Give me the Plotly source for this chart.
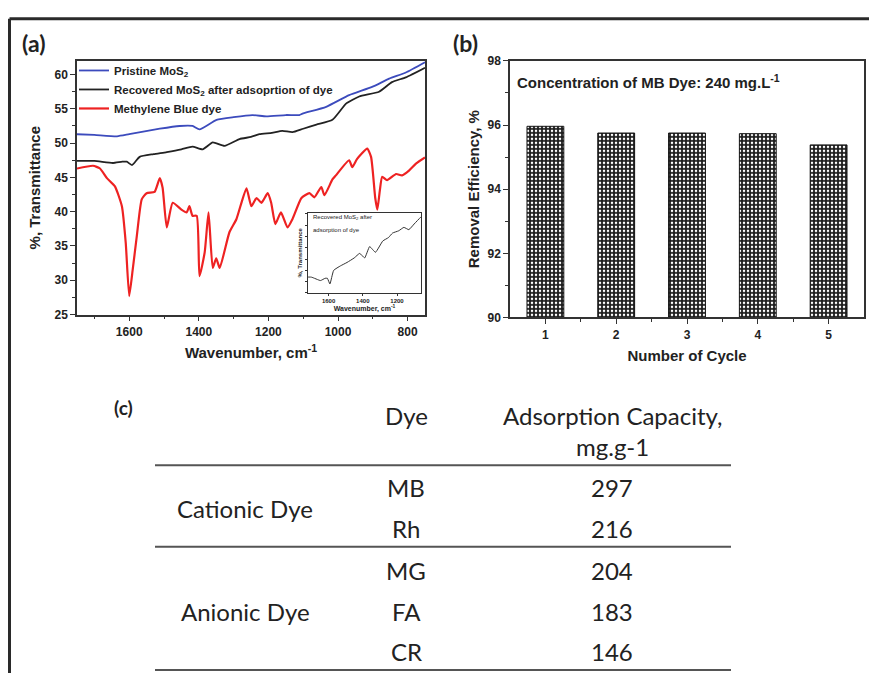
import plotly.graph_objects as go

# ---------------- data ----------------
# Panel (a): FTIR spectra
wn_pristine = [1750, 1700, 1635, 1600, 1512, 1455, 1418, 1398, 1349, 1300, 1246, 1206,
               1150, 1111, 1102, 1034, 968, 902, 853, 805, 750]
t_pristine = [51.3, 51.2, 51.0, 51.3, 52.1, 52.5, 52.5, 52.0, 53.4, 53.8, 54.1, 53.9,
              54.1, 54.1, 54.3, 55.3, 57.0, 58.2, 59.4, 60.3, 61.8]

wn_recovered = [1750, 1700, 1647, 1620, 1607, 1592, 1570, 1530, 1492, 1450, 1418, 1389,
                1360, 1326, 1283, 1250, 1226, 1190, 1160, 1131, 1100, 1062, 1016, 976,
                939, 882, 845, 805, 750]
t_recovered = [47.4, 47.4, 47.1, 47.3, 47.3, 46.8, 48.0, 48.4, 48.7, 49.1, 49.5, 49.1,
               50.1, 49.6, 50.6, 50.9, 51.3, 51.5, 51.8, 51.6, 52.1, 52.7, 53.4, 55.8,
               56.8, 57.5, 58.9, 59.6, 61.0]

wn_mb = [1750, 1704, 1684, 1664, 1641, 1621, 1610, 1600, 1590, 1578, 1564, 1550, 1527,
         1512, 1504, 1492, 1475, 1450, 1435, 1427, 1418, 1406, 1398, 1383, 1372, 1360,
         1350, 1340, 1312, 1292, 1263, 1249, 1234, 1220, 1202, 1192, 1180, 1164, 1145,
         1131, 1105, 1082, 1068, 1048, 1039, 1016, 1006, 968, 959, 945, 916, 905, 893,
         887, 880, 873, 859, 833, 816, 796, 776, 750]
t_mb = [46.3, 46.7, 46.3, 44.9, 43.7, 40.8, 35.5, 27.7, 31.5, 36.5, 41.8, 42.7, 42.9,
        44.9, 43.5, 37.7, 41.3, 40.3, 39.9, 40.8, 39.4, 39.4, 30.6, 34.1, 39.9, 31.8,
        33.2, 31.8, 37.0, 38.9, 43.4, 40.8, 42.0, 41.3, 42.7, 41.3, 38.2, 39.9, 37.7,
        38.9, 42.0, 42.7, 42.1, 43.6, 42.4, 44.7, 45.3, 47.5, 46.5, 47.7, 49.2, 48.0,
        42.0, 40.3, 43.0, 45.1, 44.6, 45.5, 45.3, 46.0, 47.0, 47.9]

series_names = ["Pristine MoS<sub>2</sub>",
                "Recovered MoS<sub>2</sub> after adsoprtion of dye",
                "Methylene Blue dye"]

# Panel (b): removal efficiency per cycle
cycles = [1, 2, 3, 4, 5]
removal_eff = [95.96, 95.75, 95.75, 95.73, 95.38]

# Panel (c): table
dye_classes = ["Cationic Dye", "Anionic Dye"]
class_sizes = [2, 3]
dyes = ["MB", "Rh", "MG", "FA", "CR"]
capacity = [297, 216, 204, 183, 146]

# ---------------- layout helpers ----------------
W, H = 869, 680
def px(x):
    return x / W
def py(y):
    return 1 - y / H

AX = "#333333"
TXT = "#222222"
ARIAL = "Liberation Sans, Arial, sans-serif"
CAL = "Lato, Carlito, sans-serif"

fig = go.Figure()

colors = ["#3c4bbd", "#222222", "#ee2222"]
widths = [1.8, 1.8, 2.2]
for i, (xs, ys) in enumerate([(wn_pristine, t_pristine), (wn_recovered, t_recovered), (wn_mb, t_mb)]):
    fig.add_trace(go.Scatter(x=xs, y=ys, mode="lines", name=series_names[i],
                             line=dict(color=colors[i], width=widths[i], shape="spline",
                                       smoothing=0.5),
                             xaxis="x", yaxis="y"))

# inset
fig.add_trace(go.Scatter(x=wn_recovered, y=t_recovered, mode="lines", showlegend=False,
                         line=dict(color="#333333", width=1, shape="spline", smoothing=0.4),
                         xaxis="x3", yaxis="y3"))

# bars
fig.add_trace(go.Bar(x=cycles, y=removal_eff, width=0.52, showlegend=False,
                     xaxis="x2", yaxis="y2",
                     marker=dict(color="#1e1e1e", line=dict(color="#111111", width=1),
                                 pattern=dict(shape=".", fgcolor="white", bgcolor="#1e1e1e",
                                              fillmode="replace", size=4, solidity=0.3))))

tickfont = dict(family=ARIAL, size=12, color=TXT, weight="bold")
titlefont = dict(family=ARIAL, size=15, color=TXT, weight="bold")
common = dict(showline=True, mirror=True, linecolor=AX, linewidth=1.5, ticks="outside",
              ticklen=5, tickwidth=1.2, tickcolor=AX, showgrid=False, zeroline=False,
              tickfont=tickfont)

fig.update_layout(
    width=W, height=H, margin=dict(l=0, r=0, t=0, b=0),
    paper_bgcolor="white", plot_bgcolor="white",
    showlegend=True,
    legend=dict(x=px(74), y=py(50), xanchor="left", yanchor="top", bgcolor="rgba(0,0,0,0)",
                font=dict(family=ARIAL, size=11.5, color=TXT, weight="bold"),
                tracegroupgap=0, itemwidth=30),
    xaxis=dict(domain=[px(77), px(425)], range=[1750, 750], anchor="y",
               tickvals=[1600, 1400, 1200, 1000, 800],
               minor=dict(tickvals=[1700, 1500, 1300, 1100, 900], ticklen=3, ticks="outside",
                          tickcolor=AX, tickwidth=1),
               title=dict(text="Wavenumber, cm<sup>-1</sup>", font=titlefont, standoff=10),
               **common),
    yaxis=dict(domain=[py(314), py(55)], range=[25, 62], anchor="x",
               tick0=25, dtick=5,
               minor=dict(tick0=25, dtick=2.5, ticklen=3, ticks="outside", tickcolor=AX,
                          tickwidth=1),
               title=dict(text="%, Transmittance", font=titlefont, standoff=10),
               **common),
    xaxis2=dict(domain=[px(510), px(864)], range=[0.5, 5.5], anchor="y2",
                tickvals=cycles,
                minor=dict(tickvals=[1.5, 2.5, 3.5, 4.5], ticklen=3, ticks="outside",
                           tickcolor=AX, tickwidth=1),
                title=dict(text="Number of Cycle", font=titlefont, standoff=10),
                **common),
    yaxis2=dict(domain=[py(317), py(55)], range=[90, 98], anchor="x2",
                tick0=90, dtick=2,
                minor=dict(tick0=90, dtick=1, ticklen=3, ticks="outside", tickcolor=AX,
                           tickwidth=1),
                title=dict(text="Removal Efficiency, %", font=titlefont, standoff=4),
                **common),
    xaxis3=dict(domain=[px(308), px(421)], range=[1720, 1060], anchor="y3",
                tickvals=[1600, 1400, 1200], showline=True, mirror=True, linecolor=AX,
                linewidth=1, ticks="outside", ticklen=2, tickwidth=0.8, tickcolor=AX,
                showgrid=False, zeroline=False,
                tickfont=dict(family=ARIAL, size=6, color=TXT, weight="bold"),
                title=dict(text="Wavenumber, cm<sup>-1</sup>",
                           font=dict(family=ARIAL, size=7, color=TXT, weight="bold"),
                           standoff=1)),
    yaxis3=dict(domain=[py(292), py(210)], range=[46.0, 53.1], anchor="x3",
                dtick=1, showticklabels=False, showline=True, mirror=True, linecolor=AX,
                linewidth=1, ticks="outside", ticklen=2, tickwidth=0.8, tickcolor=AX,
                showgrid=False, zeroline=False,
                title=dict(text="%, Transmittance",
                           font=dict(family=ARIAL, size=6, color=TXT, weight="bold"),
                           standoff=1)),
)

annotations = [
    dict(text="(a)", x=px(20), y=py(37), xanchor="left", yanchor="middle",
         font=dict(family=CAL, size=23, color=TXT, weight="bold")),
    dict(text="(b)", x=px(451), y=py(37), xanchor="left", yanchor="middle",
         font=dict(family=CAL, size=23, color=TXT, weight="bold")),
    dict(text="(c)", x=px(112), y=py(409), xanchor="left", yanchor="middle",
         font=dict(family=CAL, size=19, color=TXT, weight="bold")),
    dict(text="Concentration of MB Dye: 240 mg.L<sup>-1</sup>", x=px(515), y=py(76),
         xanchor="left", yanchor="middle",
         font=dict(family=ARIAL, size=15, color=TXT, weight="bold")),
    dict(text="Recovered MoS<sub>2</sub> after", x=px(311), y=py(215), xanchor="left",
         yanchor="middle", font=dict(family=ARIAL, size=6, color=TXT)),
    dict(text="adsorption of dye", x=px(311), y=py(228), xanchor="left",
         yanchor="middle", font=dict(family=ARIAL, size=6, color=TXT)),
]

tfont = dict(family=CAL, size=24, color=TXT)
col_dye_x = 406
col_cap_x = 612
col_cls_x = 245
annotations.append(dict(text="Dye", x=px(col_dye_x), y=py(417), xanchor="center",
                        yanchor="middle", font=tfont))
annotations.append(dict(text="Adsorption Capacity,", x=px(col_cap_x), y=py(417),
                        xanchor="center", yanchor="middle", font=tfont))
annotations.append(dict(text="mg.g-1", x=px(col_cap_x), y=py(449), xanchor="center",
                        yanchor="middle", font=tfont))

row_y = []
for i in range(len(dyes)):
    row_y.append(491 + 41.5 * i + (1.5 if i >= 2 else 0))
for d, c, yy in zip(dyes, capacity, row_y):
    annotations.append(dict(text=d, x=px(col_dye_x), y=py(yy), xanchor="center",
                            yanchor="middle", font=tfont))
    annotations.append(dict(text=str(c), x=px(col_cap_x), y=py(yy), xanchor="center",
                            yanchor="middle", font=tfont))
start = 0
for cls, n in zip(dye_classes, class_sizes):
    ys = row_y[start:start + n]
    annotations.append(dict(text=cls, x=px(col_cls_x), y=py(sum(ys) / n), xanchor="center",
                            yanchor="middle", font=tfont))
    start += n

for a in annotations:
    a.update(xref="paper", yref="paper", showarrow=False)
fig.update_layout(annotations=annotations)

shapes = [
    # outer frame
    dict(type="line", x0=px(9.5), x1=1, y0=py(12), y1=py(12), line=dict(color="#2a2a2a", width=3)),
    dict(type="line", x0=px(9.5), x1=px(9.5), y0=py(12), y1=0, line=dict(color="#2a2a2a", width=3)),
]
for yy in [468, 551, 677]:
    shapes.append(dict(type="line", x0=px(155), x1=px(731), y0=py(yy), y1=py(yy),
                       line=dict(color="#555555", width=2)))
for s in shapes:
    s.update(xref="paper", yref="paper")
fig.update_layout(shapes=shapes)

fig.write_html("out.html")
